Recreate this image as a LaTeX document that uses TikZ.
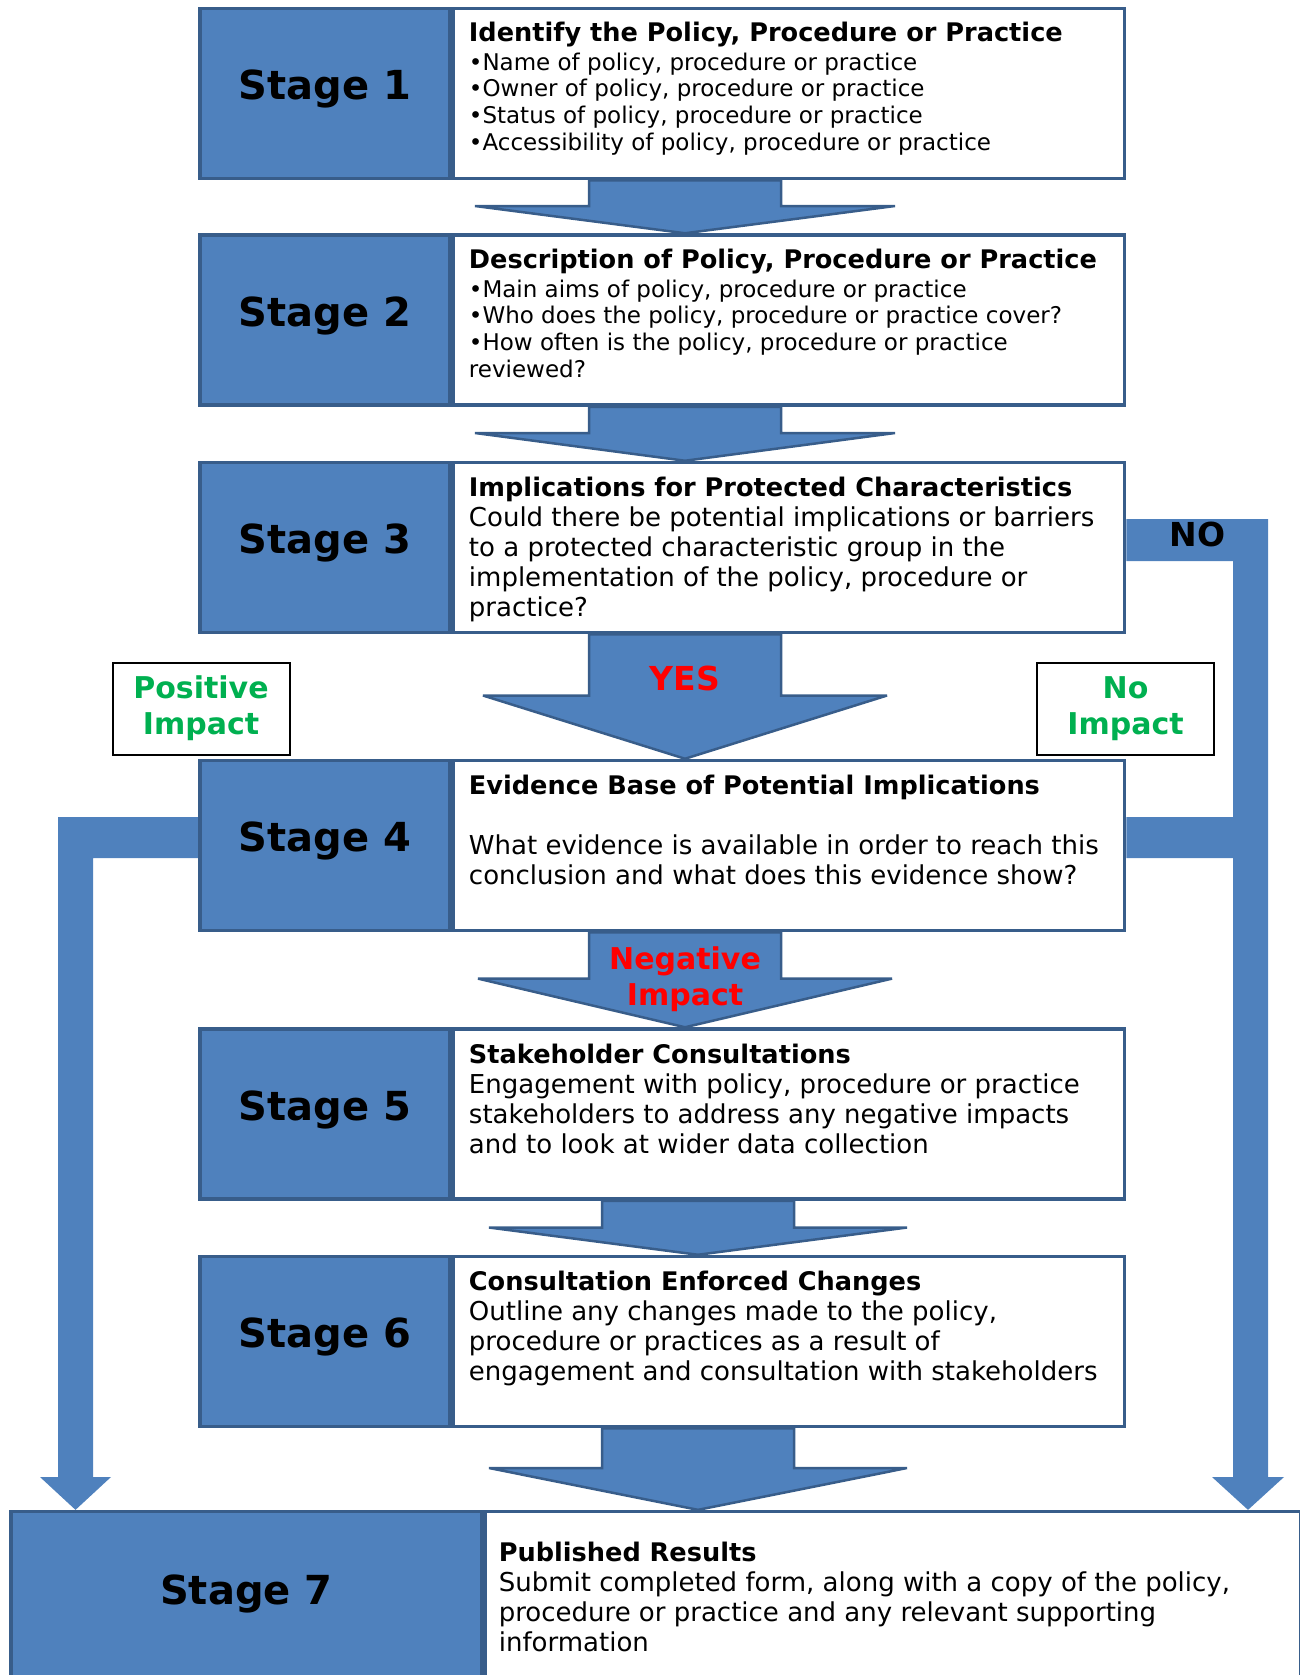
\documentclass[tikz,border=0pt]{standalone}
\usepackage{fontspec}
\setmainfont{DejaVu Sans}
\usetikzlibrary{positioning,backgrounds}
\definecolor{stageblue}{HTML}{4F81BD}
\definecolor{stageline}{HTML}{385D8A}
\definecolor{impactgreen}{HTML}{00B050}
\definecolor{impactred}{HTML}{FF0000}
\newcommand\headline[1]{{\fontsize{25.6}{30}\selectfont\bfseries #1}}

\begin{document}
\begin{tikzpicture}[x=1pt,y=-1pt,
    stage/.style={draw=stageline,line width=3.5pt,fill=stageblue,minimum width=250pt,
      minimum height=170pt,inner sep=0pt,text height=29pt,text depth=17pt,
      font=\fontsize{40}{48}\selectfont\bfseries},
    panel/.style={draw=stageline,line width=3.5pt,fill=white,minimum width=671pt,
      minimum height=170pt,inner sep=0pt,anchor=west},
    body/.style={anchor=north west,inner sep=0pt,align=left,font=\fontsize{26}{30}\selectfont},
    small body/.style={body,font=\fontsize{23}{26.7}\selectfont},
    flowarrow/.style={draw=stageline,line width=2.5pt,fill=stageblue,line join=miter,miter limit=4},
    band/.style={fill=stageblue},
    impact/.style={draw=black,line width=2pt,minimum width=177pt,minimum height=92pt,
      align=center,text=impactgreen,font=\fontsize{30}{36}\selectfont\bfseries},
    answer/.style={text=impactred,align=center,font=\fontsize{30}{35.5}\selectfont\bfseries},
  ]
  \useasboundingbox (0,0) rectangle (1299,1675);

  % stages
  \foreach \i/\y in {1/93.5,2/320,3/547.5,4/845.5,5/1114,6/1341.5}{
    \node[stage] (s\i) at (325,\y) {Stage \i};
    \node[panel] (t\i) at (s\i.east) {};
  }
  \node[stage,minimum width=471pt,minimum height=173pt] (s7) at (246.35,1598.1) {Stage 7};
  \node[panel,minimum width=815pt,minimum height=173pt] (t7) at (s7.east) {};

  \node[small body] (d1) at ([xshift=17pt,yshift=-15.5pt]t1.north west)
    {\headline{Identify the Policy, Procedure or Practice}\\[1.5pt]
     •Name of policy, procedure or practice\\
     •Owner of policy, procedure or practice\\
     •Status of policy, procedure or practice\\
     •Accessibility of policy, procedure or practice};
  \node[small body] (d2) at ([xshift=17pt,yshift=-16pt]t2.north west)
    {\headline{Description of Policy, Procedure or Practice}\\[1.5pt]
     •Main aims of policy, procedure or practice\\
     •Who does the policy, procedure or practice cover?\\
     •How often is the policy, procedure or practice\\
     reviewed?};
  \node[body] (d3) at ([xshift=17pt,yshift=-16.5pt]t3.north west)
    {\headline{Implications for Protected Characteristics}\\
     Could there be potential implications or barriers\\
     to a protected characteristic group in the\\
     implementation of the policy, procedure or\\
     practice?};
  \node[body] (d4) at ([xshift=17pt,yshift=-16.5pt]t4.north west)
    {\headline{Evidence Base of Potential Implications}\\[30pt]
     What evidence is available in order to reach this\\
     conclusion and what does this evidence show?};
  \node[body] (d5) at ([xshift=17pt,yshift=-16.5pt]t5.north west)
    {\headline{Stakeholder Consultations}\\
     Engagement with policy, procedure or practice\\
     stakeholders to address any negative impacts\\
     and to look at wider data collection};
  \node[body] (d6) at ([xshift=17pt,yshift=-16.5pt]t6.north west)
    {\headline{Consultation Enforced Changes}\\
     Outline any changes made to the policy,\\
     procedure or practices as a result of\\
     engagement and consultation with stakeholders};
  \node[body] (d7) at ([xshift=15pt,yshift=-31.5pt]t7.north west)
    {\headline{Published Results}\\
     Submit completed form, along with a copy of the policy,\\
     procedure or practice and any relevant supporting\\
     information};

  % outcome boxes and answers
  \node[impact] (pos) at (201,708.5) {Positive\\Impact};
  \node[impact] (none) at (1125.5,708.5) {No\\Impact};
  \node[answer,font=\fontsize{33}{40}\selectfont\bfseries] (yes) at (685,678) {YES};
  \node[answer] (neg) at (685,979) {Negative\\Impact};
  \node[font=\fontsize{33}{40}\selectfont\bfseries] (no) at (1197.6,534) {NO};

  \begin{scope}[on background layer]
    \foreach \a/\b/\x/\h/\w/\hw in {1/2/685/206/96/210,2/3/685/433/96/210,3/4/685/695.5/96/202,
                                   4/5/685/978.6/96/207,5/6/698/1227.5/96/209,6/7/698/1468/96/209}
      \draw[flowarrow] (\x-\w,0 |- t\a.south) -- (\x-\w,\h) -- (\x-\hw,\h) -- (\x,0 |- t\b.north)
        -- (\x+\hw,\h) -- (\x+\w,\h) -- (\x+\w,0 |- t\a.south) -- cycle;

    % side routes
    \fill[band] (s4.west |- 0,817) -- (58,817) -- (58,1477) -- (40,1477) -- (75.5,0 |- s7.north)
      -- (111,1477) -- (93,1477) -- (93,858) -- (s4.west |- 0,858) -- cycle;
    \fill[band] (t3.east |- 0,519) -- (1268,519) -- (1268,1477) -- (1284,1477) -- (1248,0 |- t7.north)
      -- (1212,1477) -- (1233,1477) -- (1233,858) -- (t4.east |- 0,858) -- (t4.east |- 0,817)
      -- (1233,817) -- (1233,561) -- (t3.east |- 0,561) -- cycle;
  \end{scope}
\end{tikzpicture}
\end{document}
